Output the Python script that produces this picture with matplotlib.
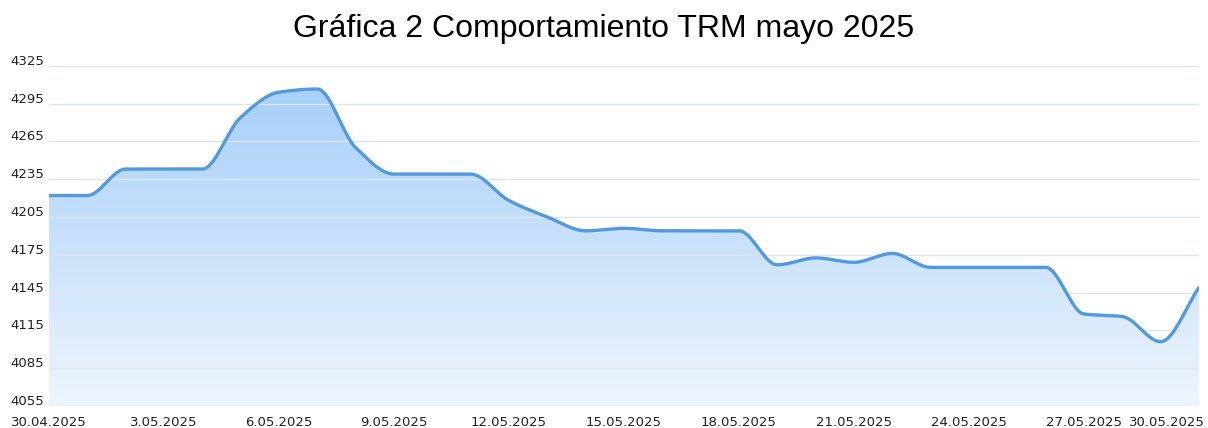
import numpy as np
import matplotlib
matplotlib.use("Agg")
import matplotlib.pyplot as plt
from matplotlib.colors import LinearSegmentedColormap

# ---- data ----
dates = ["30.04.2025", "1.05.2025", "2.05.2025", "3.05.2025", "4.05.2025", "5.05.2025",
         "6.05.2025", "7.05.2025", "8.05.2025", "9.05.2025", "10.05.2025", "11.05.2025",
         "12.05.2025", "13.05.2025", "14.05.2025", "15.05.2025", "16.05.2025", "17.05.2025",
         "18.05.2025", "19.05.2025", "20.05.2025", "21.05.2025", "22.05.2025", "23.05.2025",
         "24.05.2025", "25.05.2025", "26.05.2025", "27.05.2025", "28.05.2025", "29.05.2025",
         "30.05.2025"]
trm = [4222, 4222, 4243, 4243, 4243, 4284, 4304, 4306.5, 4260, 4239, 4239, 4239,
       4218, 4205, 4194, 4196, 4194, 4194, 4194, 4167, 4172.5, 4169, 4176, 4165,
       4165, 4165, 4165, 4128, 4126, 4106, 4149]
y_ticks = [4055, 4085, 4115, 4145, 4175, 4205, 4235, 4265, 4295, 4325]
x_tick_labels = ["30.04.2025", "3.05.2025", "6.05.2025", "9.05.2025", "12.05.2025",
                 "15.05.2025", "18.05.2025", "21.05.2025", "24.05.2025", "27.05.2025",
                 "30.05.2025"]

x = np.arange(len(trm), dtype=float)
y = np.array(trm, dtype=float)


def pchip(xk, yk, xs):
    h = np.diff(xk)
    d = np.diff(yk) / h
    n = len(xk)
    m = np.zeros(n)
    for i in range(1, n - 1):
        if d[i - 1] * d[i] > 0:
            w1 = 2 * h[i] + h[i - 1]
            w2 = h[i] + 2 * h[i - 1]
            m[i] = (w1 + w2) / (w1 / d[i - 1] + w2 / d[i])
        else:
            m[i] = 0.0
    m[0] = d[0]
    m[-1] = d[-1]
    idx = np.clip(np.searchsorted(xk, xs) - 1, 0, n - 2)
    t = (xs - xk[idx]) / h[idx]
    h00 = 2 * t**3 - 3 * t**2 + 1
    h10 = t**3 - 2 * t**2 + t
    h01 = -2 * t**3 + 3 * t**2
    h11 = t**3 - t**2
    return h00 * yk[idx] + h10 * h[idx] * m[idx] + h01 * yk[idx + 1] + h11 * h[idx] * m[idx + 1]


xs = np.linspace(0, len(trm) - 1, 1500)
ys = pchip(x, y, xs)

W, H = 1208, 428
fig = plt.figure(figsize=(W / 100, H / 100), dpi=100)
left, right = 49 / W, 1199 / W
bottom, top = (H - 406) / H, (H - 65.7) / H
ax = fig.add_axes([left, bottom, right - left, top - bottom])
ymin, ymax = 4055, 4325
ax.set_xlim(0, len(trm) - 1)
ax.set_ylim(ymin, ymax)

# gradient fill
cmap = LinearSegmentedColormap.from_list("g", ["#eef5fd", "#a2cdfa"])
grad = np.linspace(0, 1, 256).reshape(-1, 1)
im = ax.imshow(grad, cmap=cmap, aspect="auto", origin="lower",
               extent=[0, len(trm) - 1, ymin, ymax], zorder=1)
poly = ax.fill_between(xs, ys, ymin, color="none", lw=0)
path = poly.get_paths()[0]
im.set_clip_path(path, transform=ax.transData)

# grid
for t in y_ticks:
    ax.axhline(t, color="#dfe5ec", lw=1.0, zorder=2)

ax.plot(xs, ys, color="#5299de", lw=2.4, zorder=3, solid_capstyle="round")

for s in ax.spines.values():
    s.set_visible(False)
ax.set_xticks([])
ax.set_yticks([])

ax_w_px = 1199 - 49
ax_h_px = 406 - 65.7

# y tick labels
for t in y_ticks:
    yp = (t - ymin) / (ymax - ymin) + 1 / ax_h_px
    ax.text(-39 / ax_w_px, yp, f"{t}", transform=ax.transAxes,
            ha="left", va="baseline", fontsize=9.5, color="#222222",
            family="DejaVu Sans", clip_on=False)

# x tick labels
for i, lab in enumerate(x_tick_labels):
    xi = dates.index(lab)
    ypos = -10 / ax_h_px
    if i == len(x_tick_labels) - 1:
        ax.text((xi + 6 / 38.33) / (len(trm) - 1), ypos, lab, transform=ax.transAxes,
                ha="right", va="top", fontsize=9.5, color="#222222",
                family="DejaVu Sans", clip_on=False)
    else:
        ax.text(xi / (len(trm) - 1), ypos, lab, transform=ax.transAxes, ha="center",
                va="top", fontsize=9.5, color="#222222", family="DejaVu Sans",
                clip_on=False)

fig.text(0.5, 1 - 29 / H, "Gráfica 2 Comportamiento TRM mayo 2025", ha="center",
         va="center", fontsize=23, family="Liberation Sans", color="#000000")

fig.savefig("out.png", dpi=100)
